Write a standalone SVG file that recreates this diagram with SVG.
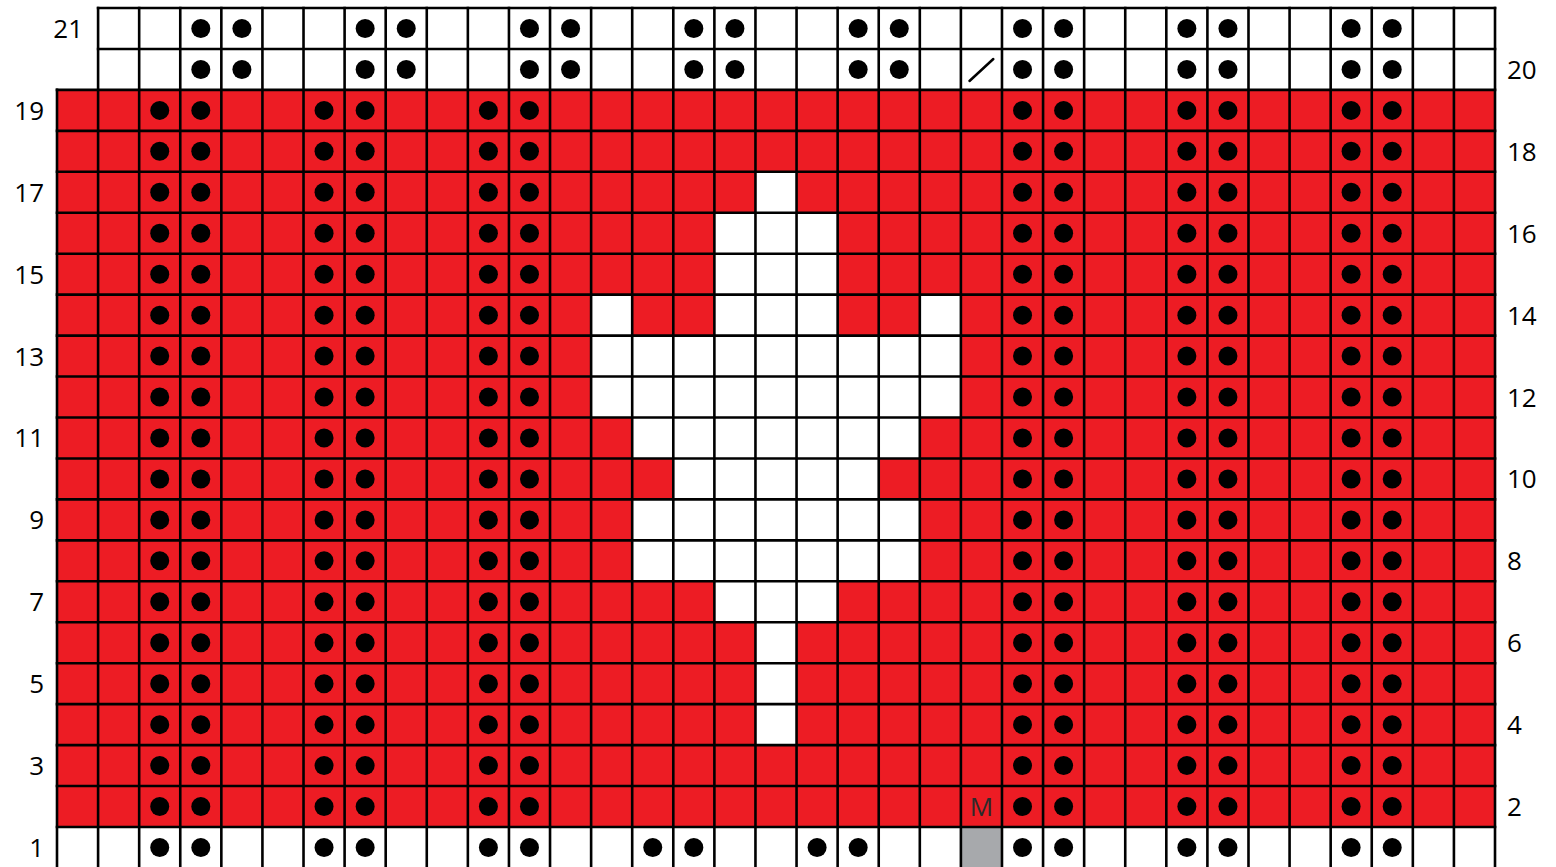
<svg xmlns="http://www.w3.org/2000/svg" xmlns:xlink="http://www.w3.org/1999/xlink" width="1556" height="867" viewBox="0 0 1556 867">
<style>
.red{fill:#ED1C24}
.wh{fill:#FFFFFF}
.gray{fill:#A7A9AC}
.grid{fill:none;stroke:#000;stroke-width:2.6;stroke-linecap:square}
.dot{fill:#000}
.lbl{font-family:"Open Sans","Liberation Sans",sans-serif;font-size:26px;fill:#000}
.m{font-family:"Open Sans","Liberation Sans",sans-serif;font-size:26px;fill:#2b2b2b;text-anchor:middle}
</style>
<defs>
<g id="dotcol">
<circle class="dot" cx="0" cy="110.38" r="9.5"/>
<circle class="dot" cx="0" cy="151.33" r="9.5"/>
<circle class="dot" cx="0" cy="192.28" r="9.5"/>
<circle class="dot" cx="0" cy="233.23" r="9.5"/>
<circle class="dot" cx="0" cy="274.18" r="9.5"/>
<circle class="dot" cx="0" cy="315.13" r="9.5"/>
<circle class="dot" cx="0" cy="356.08" r="9.5"/>
<circle class="dot" cx="0" cy="397.03" r="9.5"/>
<circle class="dot" cx="0" cy="437.98" r="9.5"/>
<circle class="dot" cx="0" cy="478.93" r="9.5"/>
<circle class="dot" cx="0" cy="519.88" r="9.5"/>
<circle class="dot" cx="0" cy="560.83" r="9.5"/>
<circle class="dot" cx="0" cy="601.78" r="9.5"/>
<circle class="dot" cx="0" cy="642.73" r="9.5"/>
<circle class="dot" cx="0" cy="683.68" r="9.5"/>
<circle class="dot" cx="0" cy="724.63" r="9.5"/>
<circle class="dot" cx="0" cy="765.58" r="9.5"/>
<circle class="dot" cx="0" cy="806.53" r="9.5"/>
</g>
<g id="dotpair20">
<circle class="dot" cx="0" cy="28.48" r="9.5"/>
<circle class="dot" cx="0" cy="69.43" r="9.5"/>
</g>
</defs>
<rect width="1556" height="867" fill="#FFFFFF"/>
<g id="cells">
<rect class="red" x="57" y="89.9" width="1438.01" height="737.1"/>
<rect class="wh" x="755.46" y="171.8" width="41.09" height="40.95"/>
<rect class="wh" x="714.38" y="212.75" width="123.26" height="81.9"/>
<rect class="wh" x="591.12" y="294.65" width="41.09" height="40.95"/>
<rect class="wh" x="714.38" y="294.65" width="123.26" height="40.95"/>
<rect class="wh" x="919.81" y="294.65" width="41.09" height="40.95"/>
<rect class="wh" x="591.12" y="335.6" width="369.77" height="81.9"/>
<rect class="wh" x="632.2" y="417.5" width="287.61" height="40.95"/>
<rect class="wh" x="673.29" y="458.45" width="205.43" height="40.95"/>
<rect class="wh" x="632.2" y="499.4" width="287.61" height="81.9"/>
<rect class="wh" x="714.38" y="581.3" width="123.26" height="40.95"/>
<rect class="wh" x="755.46" y="622.25" width="41.09" height="122.85"/>
<rect class="gray" x="960.89" y="827" width="41.09" height="41"/>
</g>
<g id="gridlines">
<path class="grid" d="M98.09 8H1495.01M98.09 48.95H1495.01M57 89.9H1495.01M57 130.85H1495.01M57 171.8H1495.01M57 212.75H1495.01M57 253.7H1495.01M57 294.65H1495.01M57 335.6H1495.01M57 376.55H1495.01M57 417.5H1495.01M57 458.45H1495.01M57 499.4H1495.01M57 540.35H1495.01M57 581.3H1495.01M57 622.25H1495.01M57 663.2H1495.01M57 704.15H1495.01M57 745.1H1495.01M57 786.05H1495.01M57 827H1495.01"/>
<path class="grid" d="M57 89.9V870M98.09 8V870M139.17 8V870M180.26 8V870M221.34 8V870M262.43 8V870M303.52 8V870M344.6 8V870M385.69 8V870M426.77 8V870M467.86 8V870M508.95 8V870M550.03 8V870M591.12 8V870M632.2 8V870M673.29 8V870M714.38 8V870M755.46 8V870M796.55 8V870M837.63 8V870M878.72 8V870M919.81 8V870M960.89 8V870M1001.98 8V870M1043.06 8V870M1084.15 8V870M1125.24 8V870M1166.32 8V870M1207.41 8V870M1248.49 8V870M1289.58 8V870M1330.67 8V870M1371.75 8V870M1412.84 8V870M1453.92 8V870M1495.01 8V870"/>
</g>
<g id="purl-dots">
<use xlink:href="#dotcol" x="159.72"/>
<use xlink:href="#dotcol" x="200.8"/>
<use xlink:href="#dotcol" x="324.06"/>
<use xlink:href="#dotcol" x="365.15"/>
<use xlink:href="#dotcol" x="488.4"/>
<use xlink:href="#dotcol" x="529.49"/>
<use xlink:href="#dotcol" x="1022.52"/>
<use xlink:href="#dotcol" x="1063.61"/>
<use xlink:href="#dotcol" x="1186.87"/>
<use xlink:href="#dotcol" x="1227.95"/>
<use xlink:href="#dotcol" x="1351.12"/>
<use xlink:href="#dotcol" x="1392.21"/>
<use xlink:href="#dotpair20" x="200.8"/>
<use xlink:href="#dotpair20" x="241.89"/>
<use xlink:href="#dotpair20" x="365.15"/>
<use xlink:href="#dotpair20" x="406.23"/>
<use xlink:href="#dotpair20" x="529.49"/>
<use xlink:href="#dotpair20" x="570.58"/>
<use xlink:href="#dotpair20" x="693.83"/>
<use xlink:href="#dotpair20" x="734.92"/>
<use xlink:href="#dotpair20" x="858.18"/>
<use xlink:href="#dotpair20" x="899.26"/>
<use xlink:href="#dotpair20" x="1022.52"/>
<use xlink:href="#dotpair20" x="1063.61"/>
<use xlink:href="#dotpair20" x="1186.87"/>
<use xlink:href="#dotpair20" x="1227.95"/>
<use xlink:href="#dotpair20" x="1351.12"/>
<use xlink:href="#dotpair20" x="1392.21"/>
<circle class="dot" cx="159.72" cy="847.48" r="9.5"/>
<circle class="dot" cx="200.8" cy="847.48" r="9.5"/>
<circle class="dot" cx="324.06" cy="847.48" r="9.5"/>
<circle class="dot" cx="365.15" cy="847.48" r="9.5"/>
<circle class="dot" cx="488.4" cy="847.48" r="9.5"/>
<circle class="dot" cx="529.49" cy="847.48" r="9.5"/>
<circle class="dot" cx="652.75" cy="847.48" r="9.5"/>
<circle class="dot" cx="693.83" cy="847.48" r="9.5"/>
<circle class="dot" cx="817.09" cy="847.48" r="9.5"/>
<circle class="dot" cx="858.18" cy="847.48" r="9.5"/>
<circle class="dot" cx="1022.52" cy="847.48" r="9.5"/>
<circle class="dot" cx="1063.61" cy="847.48" r="9.5"/>
<circle class="dot" cx="1186.87" cy="847.48" r="9.5"/>
<circle class="dot" cx="1227.95" cy="847.48" r="9.5"/>
<circle class="dot" cx="1351.12" cy="847.48" r="9.5"/>
<circle class="dot" cx="1392.21" cy="847.48" r="9.5"/>
</g>
<g id="symbols">
<line x1="969.5" y1="81" x2="993.3" y2="59" stroke="#000" stroke-width="2.5" stroke-linecap="round"/>
<text class="m" x="981.4" y="815.5">M</text>
</g>
<g id="labels-left" class="lbl" text-anchor="end">
<text x="83" y="38">21</text>
<text x="44" y="119.8">19</text>
<text x="44" y="201.7">17</text>
<text x="44" y="283.6">15</text>
<text x="44" y="365.5">13</text>
<text x="44" y="447.4">11</text>
<text x="44" y="529.3">9</text>
<text x="44" y="611.2">7</text>
<text x="44" y="693.1">5</text>
<text x="44" y="775">3</text>
<text x="44" y="856.9">1</text>
</g>
<g id="labels-right" class="lbl" text-anchor="start">
<text x="1507" y="78.9">20</text>
<text x="1507" y="160.8">18</text>
<text x="1507" y="242.7">16</text>
<text x="1507" y="324.6">14</text>
<text x="1507" y="406.5">12</text>
<text x="1507" y="488.4">10</text>
<text x="1507" y="570.3">8</text>
<text x="1507" y="652.2">6</text>
<text x="1507" y="734.1">4</text>
<text x="1507" y="816">2</text>
</g>
</svg>
